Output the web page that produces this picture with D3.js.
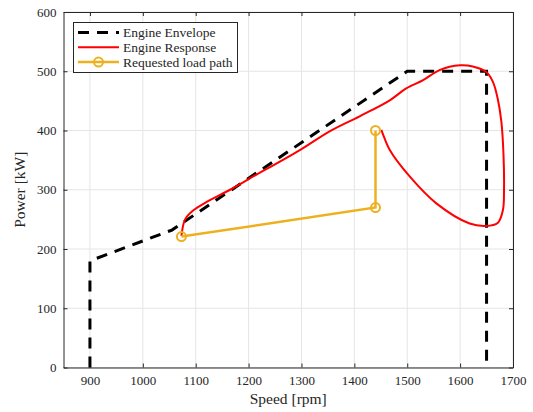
<!DOCTYPE html>
<meta charset="utf-8">
<style>
body { margin: 0; background: #fff; }
svg text { font-family: "Liberation Serif", "DejaVu Serif", serif !important; fill: #262626; }
.grid line { stroke: #e5e5e5; stroke-width: 1px; }
</style>
<svg width="533" height="412"></svg>
<script src="https://d3js.org/d3.v7.min.js"></script>
<script>

// data
let xTicks = [900, 1000, 1100, 1200, 1300, 1400, 1500, 1600, 1700];
let yTicks = [0, 100, 200, 300, 400, 500, 600];

let envelopeRpm = [900, 900, 1055, 1500, 1650, 1650];
let envelopeKw  = [0, 180, 232, 500, 500, 0];

let responseRpm = [1073, 1080, 1095, 1120, 1165, 1196, 1297, 1354, 1410, 1467, 1498, 1530, 1561, 1600, 1624, 1649, 1662, 1671, 1678, 1682, 1683, 1681, 1671, 1649, 1618, 1555, 1505, 1467, 1454, 1451];
let responseKw  = [222, 250, 265, 279, 300, 316, 367, 399, 424, 451, 471, 485, 502, 510, 508, 499, 482, 454, 415, 360, 300, 266, 244, 239, 243, 277, 322, 367, 394, 401];

let requestRpm = [1073, 1440, 1440];
let requestKw  = [221, 270, 400];

let svg = d3.select("svg");
let pLeft = 63.5, pRight = 513, pTop = 12, pBottom = 367.5;

let x = d3.scaleLinear().domain([850, 1700]).range([pLeft, pRight]);
let y = d3.scaleLinear().domain([0, 600]).range([pBottom, pTop]);

// grid
let grid = svg.append("g").attr("class", "grid");
grid.selectAll(".gx").data(xTicks).enter().append("line")
  .attr("x1", d => x(d)).attr("x2", d => x(d))
  .attr("y1", pTop).attr("y2", pBottom);
grid.selectAll(".gy").data(yTicks).enter().append("line")
  .attr("x1", pLeft).attr("x2", pRight)
  .attr("y1", d => y(d)).attr("y2", d => y(d));

// axes (ticks pointing inward, box on)
function styleAxis(g) {
  g.attr("font-family", null);
  g.select(".domain").attr("stroke", "#262626");
  g.selectAll(".tick line").attr("stroke", "#262626");
  g.selectAll("text").style("font-size", "13px").attr("fill", "#262626");
}
let fmt = d3.format("d");
svg.append("g").attr("transform", `translate(0,${pBottom})`)
  .call(d3.axisBottom(x).tickValues(xTicks).tickFormat(fmt).tickSizeInner(-4).tickSizeOuter(0).tickPadding(8))
  .call(styleAxis);
svg.append("g").attr("transform", `translate(${pLeft},0)`)
  .call(d3.axisLeft(y).tickValues(yTicks).tickFormat(fmt).tickSizeInner(-4).tickSizeOuter(0).tickPadding(7))
  .call(styleAxis);
svg.append("g").attr("transform", `translate(0,${pTop})`)
  .call(d3.axisTop(x).tickValues(xTicks).tickSizeInner(-4).tickSizeOuter(0).tickFormat(""))
  .call(styleAxis);
svg.append("g").attr("transform", `translate(${pRight},0)`)
  .call(d3.axisRight(y).tickValues(yTicks).tickSizeInner(-4).tickSizeOuter(0).tickFormat(""))
  .call(styleAxis);

// series
let envelope = envelopeRpm.map((r, i) => [r, envelopeKw[i]]);
let response = responseRpm.map((r, i) => [r, responseKw[i]]);
let request  = requestRpm.map((r, i) => [r, requestKw[i]]);

let straight = d3.line().x(d => x(d[0])).y(d => y(d[1]));
let smooth = d3.line().x(d => x(d[0])).y(d => y(d[1])).curve(d3.curveCatmullRom.alpha(0.5));

svg.append("path").datum(envelope)
  .attr("d", straight).attr("fill", "none")
  .attr("stroke", "#000").attr("stroke-width", 3)
  .attr("stroke-dasharray", "11,8");

svg.append("path").datum(response)
  .attr("d", smooth).attr("fill", "none")
  .attr("stroke", "#ff0000").attr("stroke-width", 2);

svg.append("path").datum(request)
  .attr("d", straight).attr("fill", "none")
  .attr("stroke", "#edb120").attr("stroke-width", 2.5);
svg.selectAll(".req").data(request).enter().append("circle")
  .attr("cx", d => x(d[0])).attr("cy", d => y(d[1])).attr("r", 4.5)
  .attr("fill", "none").attr("stroke", "#edb120").attr("stroke-width", 2);

// axis labels
svg.append("text").attr("x", (pLeft + pRight) / 2).attr("y", 404)
  .attr("text-anchor", "middle").style("font-size", "15.5px").text("Speed [rpm]");
svg.append("text").attr("transform", `translate(25,${(pTop + pBottom) / 2}) rotate(-90)`)
  .attr("text-anchor", "middle").style("font-size", "15.5px").text("Power [kW]");

// legend
let lg = svg.append("g");
lg.append("rect").attr("x", 73.5).attr("y", 22.5).attr("width", 164).attr("height", 50)
  .attr("fill", "#fff").attr("stroke", "#262626").attr("stroke-width", 1);
let items = [
  { label: "Engine Envelope", color: "#000", w: 3, dash: "11,8", marker: false },
  { label: "Engine Response", color: "#ff0000", w: 2, dash: null, marker: false },
  { label: "Requested load path", color: "#edb120", w: 2.5, dash: null, marker: true }
];
items.forEach((it, i) => {
  let yy = 32.5 + i * 14.8;
  lg.append("line").attr("x1", 78).attr("x2", 119).attr("y1", yy).attr("y2", yy)
    .attr("stroke", it.color).attr("stroke-width", it.w)
    .attr("stroke-dasharray", it.dash);
  if (it.marker) lg.append("circle").attr("cx", 98.5).attr("cy", yy).attr("r", 4.5)
    .attr("fill", "none").attr("stroke", it.color).attr("stroke-width", 2);
  lg.append("text").attr("x", 123).attr("y", yy + 4.5).style("font-size", "13.5px").text(it.label);
});

</script>
